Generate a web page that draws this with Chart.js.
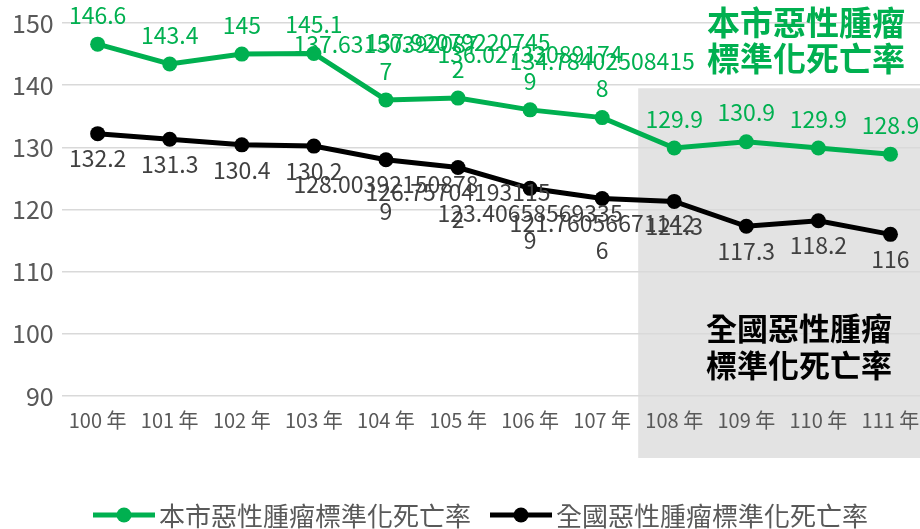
<!DOCTYPE html>
<html>
<head>
<meta charset="utf-8">
<script src="https://cdn.jsdelivr.net/npm/chart.js@4"></script>
<style>
  html, body { margin: 0; padding: 0; background: #fff; overflow: hidden; }
  #wrap { width: 920px; height: 529px; overflow: hidden; }
</style>
</head>
<body>
<div id="wrap"><canvas id="chart" width="934" height="529"></canvas></div>
<script>
/**************************************************************
 * Data
 **************************************************************/
const years = ["100 年", "101 年", "102 年", "103 年", "104 年", "105 年",
               "106 年", "107 年", "108 年", "109 年", "110 年", "111 年"];

const cityRate = [146.6, 143.4, 145, 145.1, 137.631503920877, 137.920792207455,
                  136.027330891749, 134.784025084158, 129.9, 130.9, 129.9, 128.9];
const nationRate = [132.2, 131.3, 130.4, 130.2, 128.003921508789, 126.757041931152,
                    123.406585693359, 121.760566711426, 121.3, 117.3, 118.2, 116];

// label text as shown (long values wrap onto a second line)
const cityLabels = [["146.6"], ["143.4"], ["145"], ["145.1"],
  ["137.63150392087", "7"], ["137.92079220745", "2"], ["136.02733089174", "9"],
  ["134.78402508415", "8"], ["129.9"], ["130.9"], ["129.9"], ["128.9"]];
const nationLabels = [["132.2"], ["131.3"], ["130.4"], ["130.2"],
  ["128.00392150878", "9"], ["126.75704193115", "2"], ["123.40658569335", "9"],
  ["121.76056671142", "6"], ["121.3"], ["117.3"], ["118.2"], ["116"]];

const yTicks = [90, 100, 110, 120, 130, 140, 150];

const cityName = "本市惡性腫瘤標準化死亡率";
const nationName = "全國惡性腫瘤標準化死亡率";

const GREEN = "#00b050";
const BLACK = "#000000";
const FONT = "'Noto Sans CJK TC', 'Noto Sans', sans-serif";

/**************************************************************
 * Plugins: shaded box, value labels, side notes, legend
 **************************************************************/
const shadePlugin = {
  id: "shade",
  beforeDraw(chart) {
    const { ctx, scales: { x, y }, chartArea } = chart;
    const left = (x.getPixelForValue(7) + x.getPixelForValue(8)) / 2;
    const top = y.getPixelForValue(139.5);
    ctx.save();
    ctx.fillStyle = "#e3e3e3";
    ctx.fillRect(left, top, chart.width - left, chartArea.bottom + 62 - top);
    ctx.restore();
  }
};

const labelPlugin = {
  id: "valueLabels",
  afterDatasetsDraw(chart) {
    const { ctx } = chart;
    const lh = 27;
    ctx.save();
    ctx.font = "23px " + FONT;
    ctx.textAlign = "center";
    ctx.textBaseline = "middle";
    // green above
    chart.getDatasetMeta(0).data.forEach((pt, i) => {
      const lines = cityLabels[i];
      ctx.fillStyle = GREEN;
      lines.forEach((t, k) => {
        const yy = pt.y - 29 - (lines.length - 1 - k) * lh;
        ctx.fillText(t, pt.x, yy);
      });
    });
    // black below
    chart.getDatasetMeta(1).data.forEach((pt, i) => {
      const lines = nationLabels[i];
      ctx.fillStyle = "#404040";
      lines.forEach((t, k) => {
        ctx.fillText(t, pt.x, pt.y + 25 + k * lh);
      });
    });
    ctx.restore();
  }
};

const notePlugin = {
  id: "notes",
  afterDraw(chart) {
    const { ctx } = chart;
    ctx.save();
    ctx.textAlign = "center";
    ctx.textBaseline = "middle";
    ctx.font = "bold 33px " + FONT;
    ctx.fillStyle = GREEN;
    ctx.fillText("本市惡性腫瘤", 806, 22);
    ctx.fillText("標準化死亡率", 806, 58);
    ctx.font = "bold 31px " + FONT;
    ctx.fillStyle = BLACK;
    ctx.fillText("全國惡性腫瘤", 799, 328);
    ctx.fillText("標準化死亡率", 799, 365);

    // legend
    const items = [[cityName, GREEN, 93], [nationName, BLACK, 490]];
    ctx.font = "26px " + FONT;
    ctx.textAlign = "left";
    items.forEach(([name, col, x0]) => {
      const yy = 515;
      ctx.strokeStyle = col;
      ctx.lineWidth = 5;
      ctx.beginPath();
      ctx.moveTo(x0, yy);
      ctx.lineTo(x0 + 62, yy);
      ctx.stroke();
      ctx.fillStyle = col;
      ctx.beginPath();
      ctx.arc(x0 + 31, yy, 7.5, 0, Math.PI * 2);
      ctx.fill();
      ctx.fillStyle = "#595959";
      ctx.fillText(name, x0 + 66, yy + 1);
    });
    ctx.restore();
  }
};

/**************************************************************
 * Chart
 **************************************************************/
new Chart(document.getElementById("chart"), {
  type: "line",
  data: {
    labels: years,
    datasets: [
      {
        label: cityName,
        data: cityRate,
        borderColor: GREEN,
        backgroundColor: GREEN,
        borderWidth: 5,
        pointRadius: 7.5,
        pointBackgroundColor: GREEN,
        pointBorderWidth: 0,
        tension: 0
      },
      {
        label: nationName,
        data: nationRate,
        borderColor: BLACK,
        backgroundColor: BLACK,
        borderWidth: 5,
        pointRadius: 7.5,
        pointBackgroundColor: BLACK,
        pointBorderWidth: 0,
        tension: 0
      }
    ]
  },
  options: {
    responsive: false,
    animation: false,
    devicePixelRatio: 1,
    layout: { padding: { left: 4, right: 0, top: 15, bottom: 85 } },
    plugins: {
      legend: { display: false },
      tooltip: { enabled: false }
    },
    scales: {
      x: {
        offset: true,
        grid: { display: false, drawTicks: false },
        border: { display: false },
        ticks: {
          color: "#595959",
          font: { family: FONT, size: 20 },
          padding: 12,
          maxRotation: 0,
          autoSkip: false
        }
      },
      y: {
        min: 90,
        max: 150,
        afterBuildTicks(axis) {
          axis.ticks = yTicks.map(v => ({ value: v }));
        },
        grid: { color: "#d9d9d9", lineWidth: 1.5, drawTicks: false },
        border: { display: false },
        ticks: {
          color: "#595959",
          font: { family: FONT, size: 25 },
          padding: 8
        }
      }
    }
  },
  plugins: [shadePlugin, labelPlugin, notePlugin]
});
</script>
</body>
</html>
